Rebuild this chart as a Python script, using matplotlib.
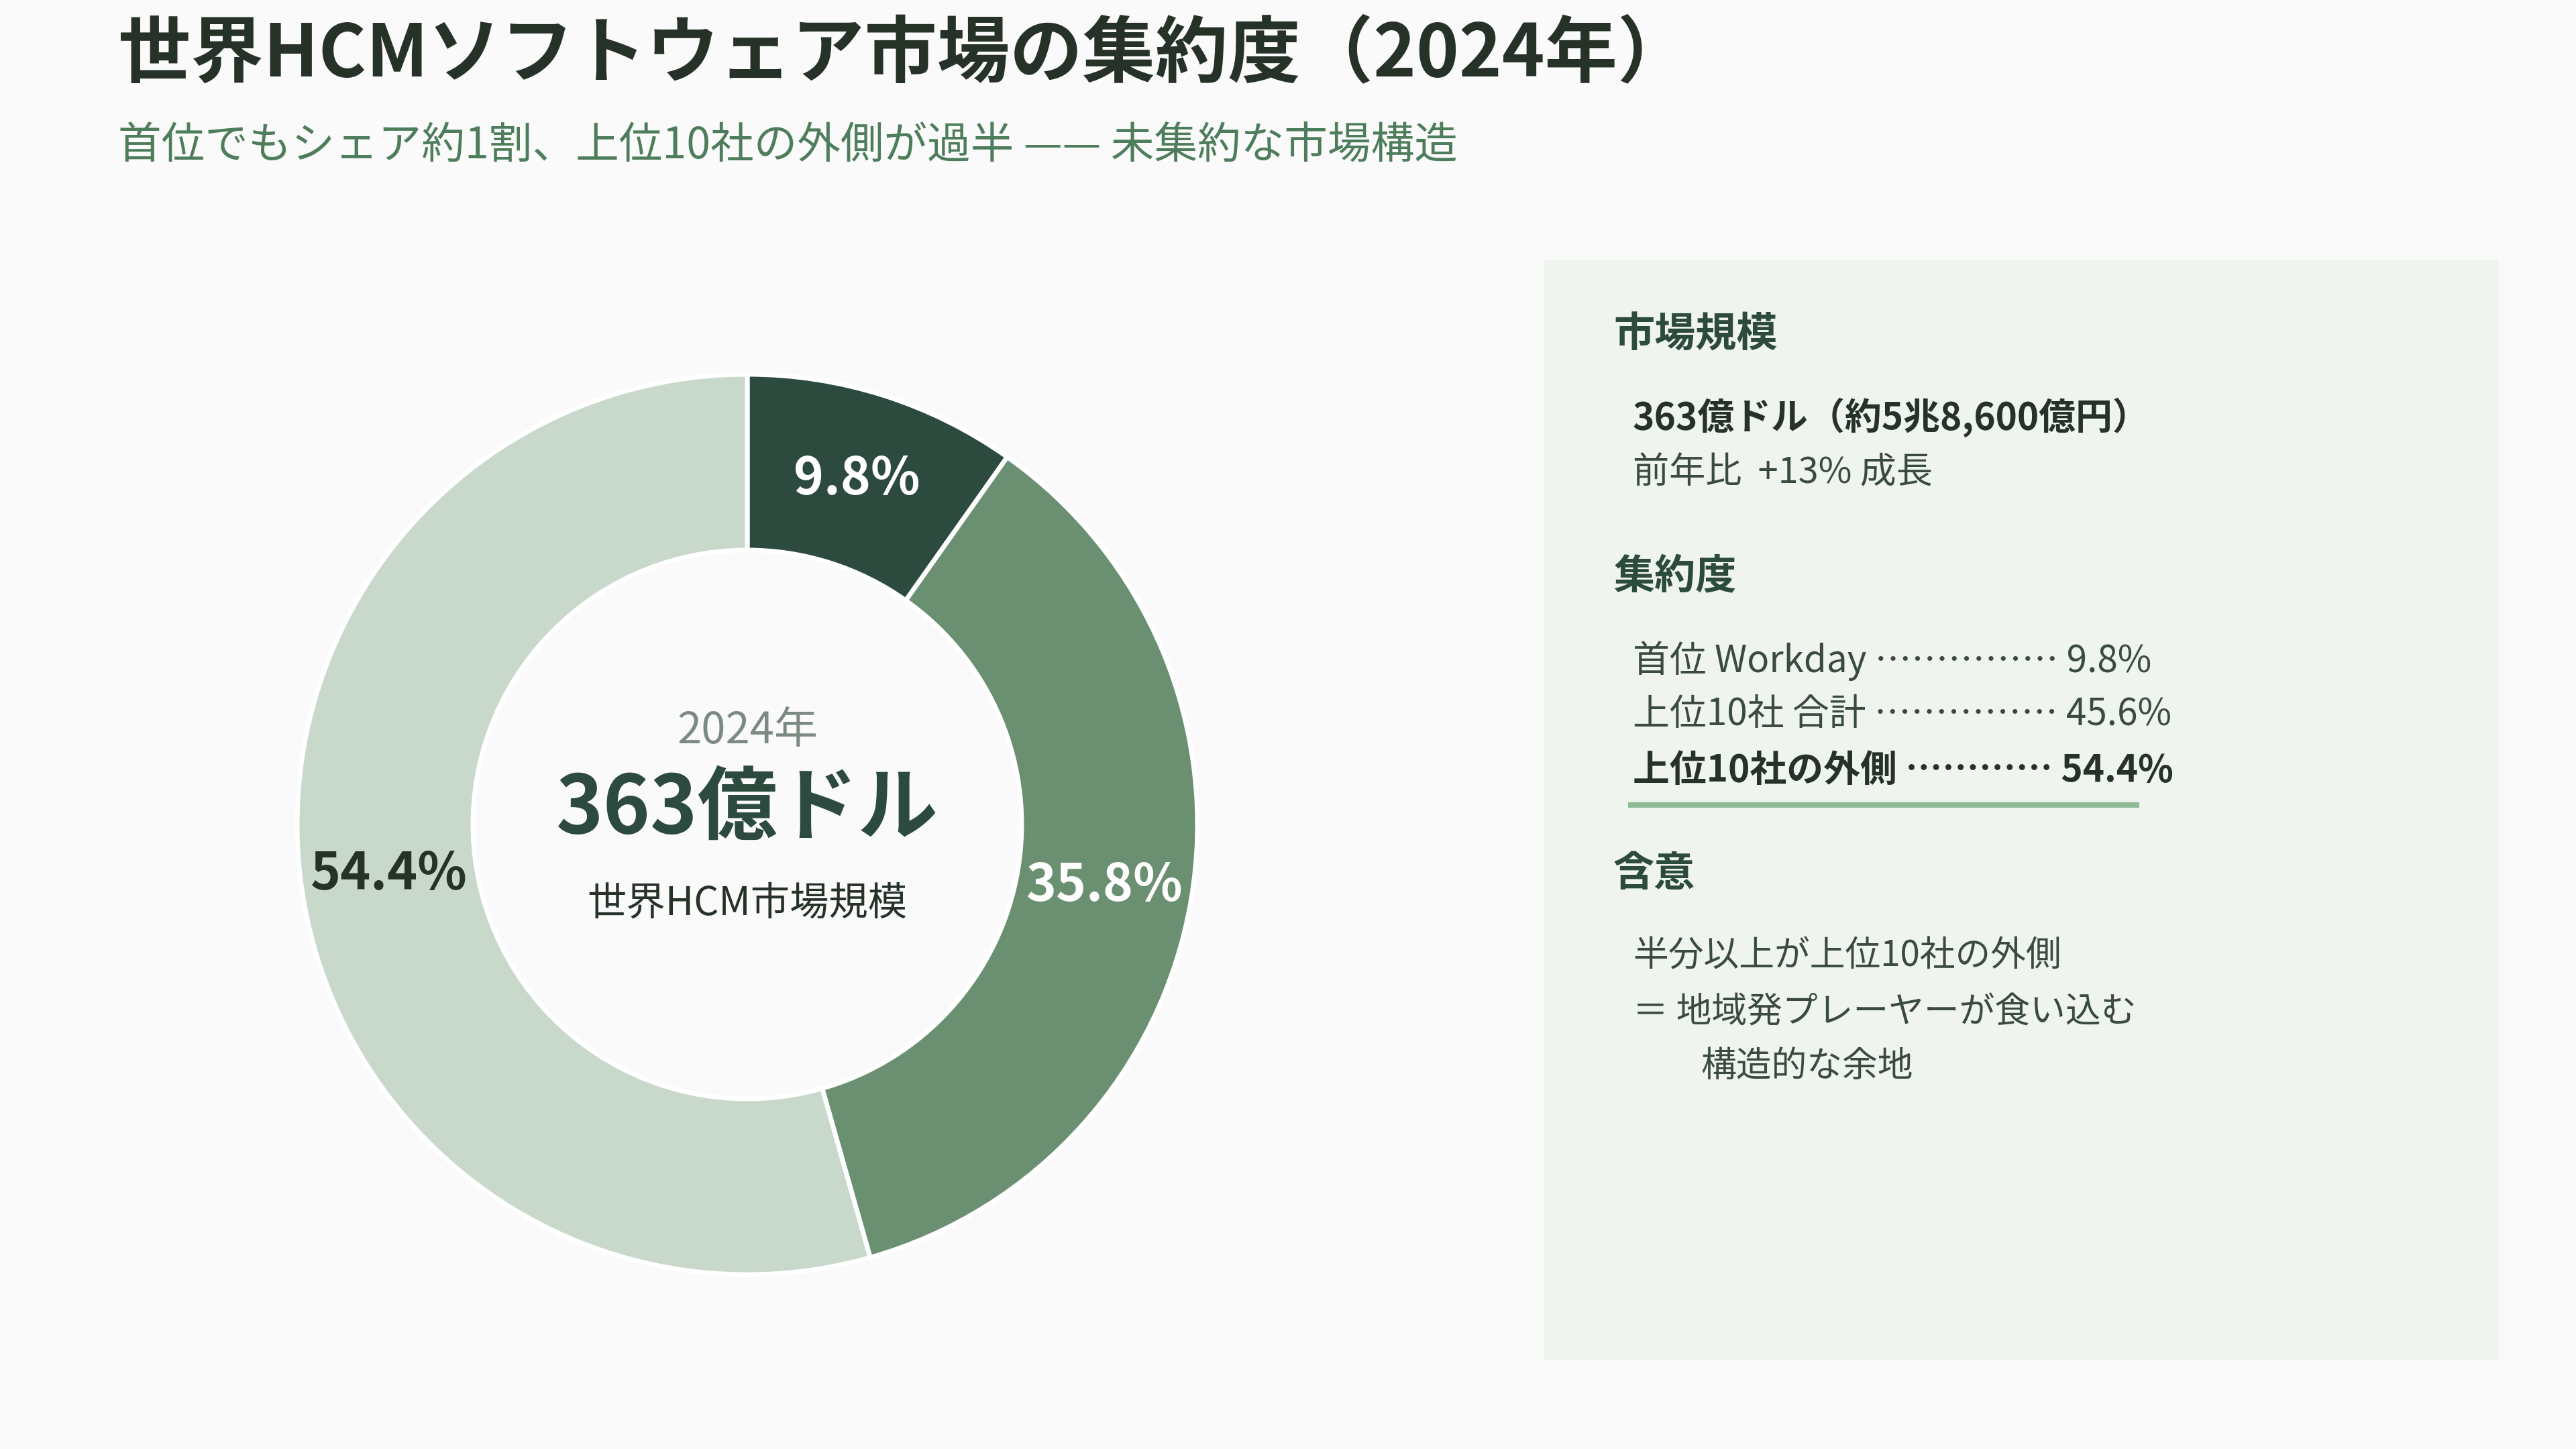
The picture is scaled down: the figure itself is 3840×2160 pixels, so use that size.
import matplotlib
matplotlib.use("Agg")
import matplotlib.pyplot as plt
from matplotlib.patches import Rectangle
import numpy as np

plt.rcParams['font.family'] = ['Noto Sans CJK JP', 'DejaVu Sans']

# ---- data ----
segments = ["首位 Workday", "2〜10位", "上位10社の外側"]
shares = [9.8, 35.8, 54.4]
seg_colors = ["#2d4a3e", "#6b8f71", "#c8d9cc"]
label_colors = ["#ffffff", "#ffffff", "#263228"]

title = "世界HCMソフトウェア市場の集約度（2024年）"
subtitle = "首位でもシェア約1割、上位10社の外側が過半 —— 未集約な市場構造"
center_year = "2024年"
center_value = "363億ドル"
center_caption = "世界HCM市場規模"

size_heading = "市場規模"
size_main = "363億ドル（約5兆8,600億円）"
size_growth = "前年比  +13% 成長"
conc_heading = "集約度"
conc_rows = ["首位 Workday", "上位10社 合計", "上位10社の外側"]
conc_values = [9.8, 45.6, 54.4]
conc_leaders = [5, 5, 4]
impl_heading = "含意"
impl_lines = ["半分以上が上位10社の外側", "＝ 地域発プレーヤーが食い込む", "構造的な余地"]

W, H = 3840, 2160
BG = "#fafafa"
DARK = "#263228"
fig = plt.figure(figsize=(W / 100, H / 100), dpi=100, facecolor=BG)
ax = fig.add_axes([0, 0, 1, 1])
ax.set_facecolor(BG)


def Y(y):
    return H - y


# donut
cx, cy, R, r_in = 1114, 1229, 671, 409
wedges, _ = ax.pie(shares, colors=seg_colors, startangle=90, counterclock=False,
                   center=(cx, Y(cy)), radius=R,
                   wedgeprops=dict(width=R - r_in, edgecolor="#ffffff", linewidth=5))
start = 90.0
rl = (R + r_in) / 2
for v, c in zip(shares, label_colors):
    mid = start - v / 2 * 3.6
    start -= v * 3.6
    ax.text(cx + rl * np.cos(np.radians(mid)), Y(cy) + rl * np.sin(np.radians(mid)),
            f"{v:.1f}%", ha="center", va="center", fontsize=55, fontweight="bold", color=c)

ax.set_xlim(0, W)
ax.set_ylim(0, H)
ax.set_aspect("equal")
ax.axis("off")

# center text
ax.text(cx, Y(1090), center_year, ha="center", va="center", fontsize=47, color="#7d8a82")
ax.text(cx, Y(1207), center_value, ha="center", va="center", fontsize=86,
        fontweight="bold", color="#2d4a3e")
ax.text(cx, Y(1347), center_caption, ha="center", va="center", fontsize=42, color=DARK)

# title
ax.text(176, Y(82), title, ha="left", va="center", fontsize=78, fontweight="bold", color=DARK)
ax.text(176, Y(218), subtitle, ha="left", va="center", fontsize=46.5, color="#4e7d5b")

# panel
ax.add_patch(Rectangle((2302, Y(2028)), 3725 - 2302, 2028 - 387,
                       facecolor="#eff4ee", edgecolor="none", zorder=0))

hx, tx = 2405, 2434
TXT = "#3a4a40"
BODY = 38
ax.text(hx, Y(500), size_heading, ha="left", va="center", fontsize=44,
        fontweight="bold", color="#2d4a3e")
ax.text(tx, Y(622), size_main, ha="left", va="center", fontsize=39.5,
        fontweight="bold", color=DARK)
ax.text(tx, Y(705), size_growth, ha="left", va="center", fontsize=39, color=TXT)

ax.text(hx, Y(860), conc_heading, ha="left", va="center", fontsize=44,
        fontweight="bold", color="#2d4a3e")
row_y = [985, 1065, 1149]
for i, (lab, val, nd, yy) in enumerate(zip(conc_rows, conc_values, conc_leaders, row_y)):
    bold = i == len(conc_rows) - 1
    s = f"{lab} {'…' * nd} {val:.1f}%"
    ax.text(tx, Y(yy), s, ha="left", va="center", fontsize=39.5,
            fontweight="bold" if bold else "normal", color=DARK if bold else TXT)
ax.plot([2427, 3189], [Y(1200), Y(1200)], color="#8fba96", linewidth=6,
        solid_capstyle="butt")

ax.text(hx, Y(1303), impl_heading, ha="left", va="center", fontsize=44,
        fontweight="bold", color="#2d4a3e")
ax.text(tx, Y(1425), impl_lines[0], ha="left", va="center", fontsize=BODY, color=TXT)
ax.text(tx, Y(1509), impl_lines[1], ha="left", va="center", fontsize=BODY, color=TXT)
ax.text(2535, Y(1589), impl_lines[2], ha="left", va="center", fontsize=BODY, color=TXT)

fig.savefig("out.png", dpi=100, facecolor=BG)
